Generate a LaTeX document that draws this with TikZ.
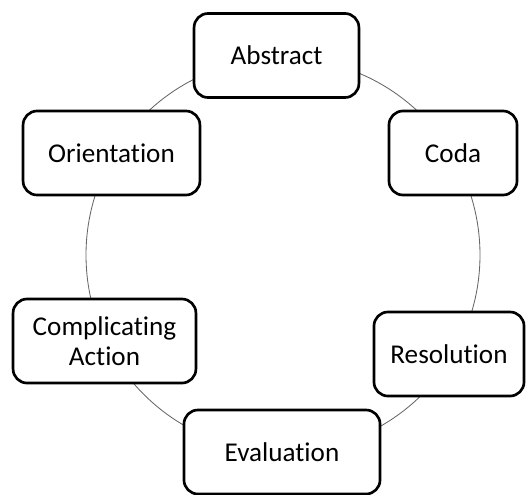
\documentclass[tikz,border=0pt]{standalone}
\usepackage{fontspec}
\setmainfont{Carlito}[Ligatures=NoCommon]
\usepackage{tikz}
\usetikzlibrary{shapes,arrows}
\tikzstyle{stage} = [rectangle, draw=black, line width=1.9pt, fill=white, text centered, align=center,
    rounded corners=0.35cm, minimum height=2.1cm, inner sep=0pt, font=\fontsize{19.3}{21.5}\selectfont]
\tikzstyle{ring} = [draw=black!60, line width=0.6pt]

\begin{document}
\begin{tikzpicture}[x=0.025cm,y=-0.025cm]
      \useasboundingbox (0,0) rectangle (532,494);
      \coordinate (mitte) at (283,255);
      \path [ring] (mitte) circle [radius=197];

      \node [stage, minimum width=4.12cm] (abstract) at (276.5,55.5) {Abstract};
      \node [stage, minimum width=3.2cm] (coda) at (453,153) {Coda};
      \node [stage, minimum width=3.75cm] (resolution) at (449,354) {Resolution};
      \node [stage, minimum width=4.9cm] (evaluation) at (282,452) {Evaluation};
      \node [stage, minimum width=4.57cm] (complicating) at (104.5,341) {Complicating\\Action};
      \node [stage, minimum width=4.42cm] (orientation) at (111.5,153) {Orientation};

    \end{tikzpicture}
\end{document}
